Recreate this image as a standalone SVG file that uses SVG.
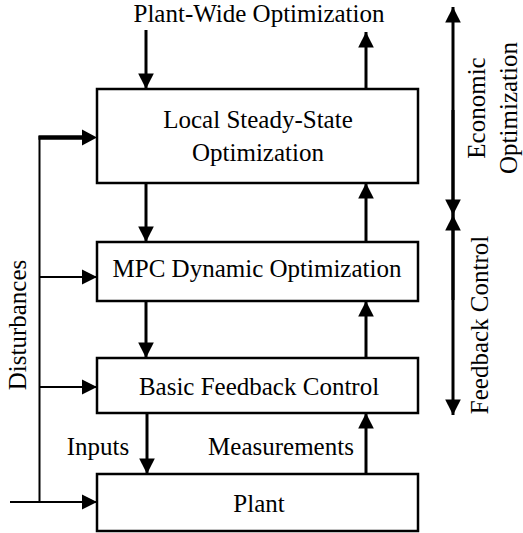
<svg xmlns="http://www.w3.org/2000/svg" width="523" height="533" viewBox="0 0 523 533">
  <defs>
    <marker id="ah" viewBox="0 0 10 10" refX="10" refY="5" markerWidth="5.2" markerHeight="5.4" markerUnits="strokeWidth" orient="auto">
      <path d="M0,0 L10,5 L0,10 Z" fill="#000"/>
    </marker>
    <marker id="ahThin" viewBox="0 0 10 10" refX="10" refY="5" markerWidth="7.5" markerHeight="8" markerUnits="strokeWidth" orient="auto">
      <path d="M0,0 L10,5 L0,10 Z" fill="#000"/>
    </marker>
  </defs>
  <style>
    .box { fill: #fff; stroke: #000; stroke-width: 2.5; }
    .flow { stroke: #000; stroke-width: 3; fill: none; marker-end: url(#ah); }
    .dist { stroke: #000; stroke-width: 2; fill: none; }
    .distArrow { stroke: #000; stroke-width: 2; fill: none; marker-end: url(#ahThin); }
  </style>
  <rect width="523" height="533" fill="#fff"/>

  <!-- connectors -->
  <g id="connectors">
    <!-- downward commands -->
    <line class="flow" x1="146" y1="30" x2="146" y2="89"/>
    <line class="flow" x1="146" y1="183" x2="146" y2="242"/>
    <line class="flow" x1="146" y1="301" x2="146" y2="358"/>
    <line class="flow" x1="147" y1="413" x2="147" y2="474"/>
    <!-- upward feedback -->
    <line class="flow" x1="366" y1="89" x2="366" y2="32"/>
    <line class="flow" x1="366" y1="242" x2="366" y2="183"/>
    <line class="flow" x1="366" y1="358" x2="366" y2="301"/>
    <line class="flow" x1="366" y1="474" x2="366" y2="413"/>
    <!-- disturbances bus -->
    <line class="dist" x1="39.5" y1="136" x2="39.5" y2="502"/>
    <line stroke="#000" stroke-width="4.5" x1="38.5" y1="137.5" x2="84" y2="137.5"/>
    <path d="M82,129.5 L97,137.5 L82,145.5 Z" fill="#000"/>
    <line class="distArrow" x1="39.5" y1="277" x2="97" y2="277"/>
    <line class="distArrow" x1="39.5" y1="387" x2="97" y2="387"/>
    <line class="distArrow" x1="10" y1="502" x2="97" y2="502"/>
    <!-- hierarchy span arrows -->
    <line class="flow" x1="453" y1="215" x2="453" y2="7"/>
    <line class="flow" x1="453" y1="110" x2="453" y2="215"/>
    <line class="flow" x1="453" y1="300" x2="453" y2="215"/>
    <line class="flow" x1="453" y1="215" x2="453" y2="415"/>
  </g>

  <g font-family="'Liberation Serif', 'DejaVu Serif', 'Times New Roman', serif" font-size="25" text-anchor="middle" fill="#000">
    <g id="plant-wide">
      <text x="259" y="22">Plant-Wide Optimization</text>
    </g>

    <g id="local-ss">
      <rect class="box" x="97" y="89" width="321" height="94"/>
      <text x="258" y="128">Local Steady-State</text>
      <text x="258" y="161">Optimization</text>
    </g>

    <g id="mpc">
      <rect class="box" x="97" y="242" width="321" height="59"/>
      <text x="257" y="277">MPC Dynamic Optimization</text>
    </g>

    <g id="basic-fb">
      <rect class="box" x="97" y="358" width="321" height="55"/>
      <text x="259" y="395">Basic Feedback Control</text>
    </g>

    <g id="plant">
      <rect class="box" x="97" y="474" width="321" height="57"/>
      <text x="259" y="512">Plant</text>
    </g>

    <g id="io-labels">
      <text x="98" y="455">Inputs</text>
      <text x="281" y="455">Measurements</text>
    </g>

    <g id="disturbances">
      <text transform="translate(26,325) rotate(-90)">Disturbances</text>
    </g>

    <g id="economic">
      <text transform="translate(485,108) rotate(-90)">Economic</text>
      <text transform="translate(517,108) rotate(-90)">Optimization</text>
    </g>

    <g id="feedback">
      <text transform="translate(488,325) rotate(-90)">Feedback Control</text>
    </g>
  </g>
</svg>
